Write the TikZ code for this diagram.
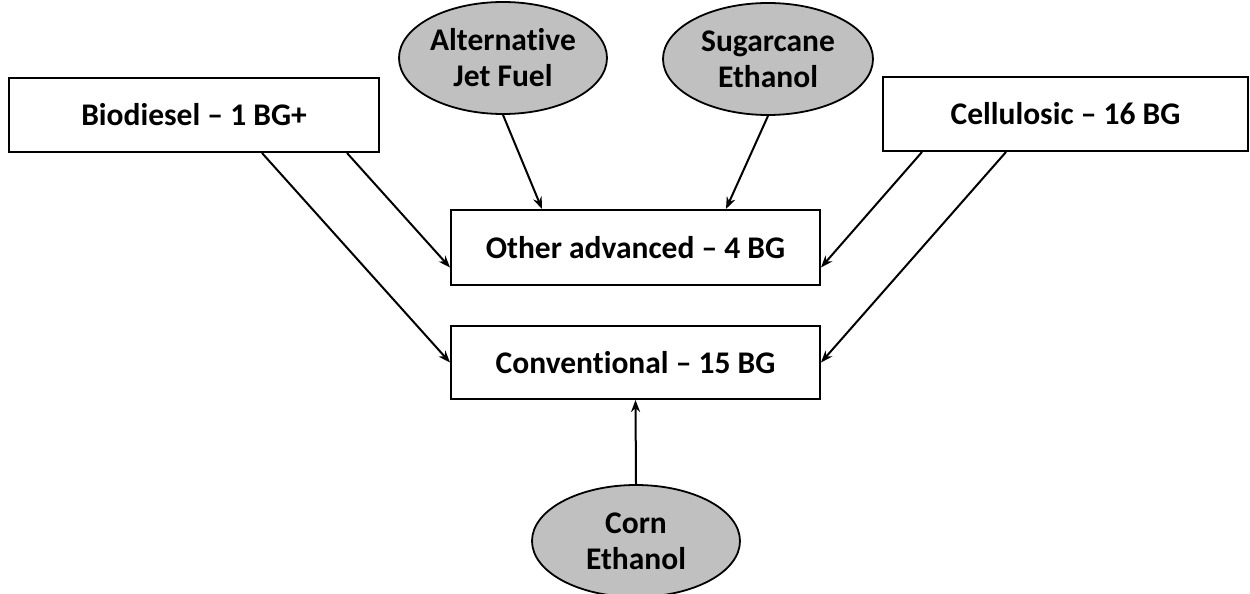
\documentclass[tikz,border=0pt]{standalone}
\usepackage{fontspec}
\setmainfont[Ligatures=NoCommon]{Carlito}
\usetikzlibrary{shapes.geometric,arrows.meta}
\definecolor{ellgray}{RGB}{192,192,192}
\begin{document}
\begin{tikzpicture}[x=1pt,y=-1pt,
  txt/.style={font=\fontsize{31.5}{36}\selectfont\bfseries, align=center},
  box/.style={txt, draw, line width=2pt, inner sep=0pt, fill=white},
  oval/.style={txt, ellipse, draw, line width=1.8pt, fill=ellgray, inner sep=0pt},
  arr/.style={line width=2pt, -{Stealth[length=12pt,width=9pt]}},
]
\useasboundingbox (0,0) rectangle (1250,594);
\node[box, minimum width=370pt, minimum height=74pt] (bio) at (194,115) {Biodiesel -- 1 BG+};
\node[box, minimum width=365pt, minimum height=74pt] (cell) at (1065.5,114) {Cellulosic -- 16 BG};
\node[box, minimum width=369pt, minimum height=75pt] (other) at (635.5,247.5) {Other advanced -- 4 BG};
\node[box, minimum width=369pt, minimum height=73pt] (conv) at (635.5,362.5) {Conventional -- 15 BG};
\node[oval, minimum width=208pt, minimum height=112pt] (alt) at (503,58) {Alternative\\Jet Fuel};
\node[oval, minimum width=210pt, minimum height=112pt] (sug) at (768,59) {Sugarcane\\Ethanol};
\node[oval, minimum width=208pt, minimum height=112pt] (corn) at (636,541) {Corn\\Ethanol};

\draw[arr] ([xshift=254pt]bio.south west) -- (conv.west);
\draw[arr] ([xshift=339pt]bio.south west) -- ([yshift=-20pt]other.west);
\draw[arr] (alt.south) -- ([xshift=92pt]other.north west);
\draw[arr] (sug.south) -- ([xshift=276pt]other.north west);
\draw[arr] ([xshift=40pt]cell.south west) -- ([yshift=-20pt]other.east);
\draw[arr] ([xshift=124pt]cell.south west) -- (conv.east);
\draw[arr] (corn.north) -- (conv.south);
\end{tikzpicture}
\end{document}
